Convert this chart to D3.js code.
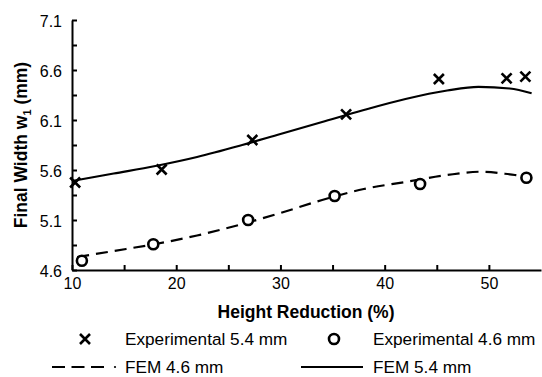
<!DOCTYPE html>
<html><head><meta charset="utf-8">
<script src="https://cdn.jsdelivr.net/npm/d3@7"></script>
<style>body{margin:0;background:#fff}svg{display:block}text{font-family:"Liberation Sans",Arial,Helvetica,sans-serif;fill:#000}</style>
</head><body><svg id="c" width="542" height="377"></svg>
<script>
const exp54X = [10.3, 18.6, 27.3, 36.3, 45.2, 51.7, 53.5];
const exp54Y = [5.475, 5.605, 5.90, 6.157, 6.51, 6.517, 6.533];
const exp46X = [10.95, 17.8, 26.9, 35.2, 43.4, 53.6];
const exp46Y = [4.693, 4.857, 5.10, 5.34, 5.46, 5.523];
const fem54X = [10, 14, 18, 22, 26, 30, 34, 38, 42, 46, 49, 52, 54.1];
const fem54Y = [5.49, 5.565, 5.64, 5.73, 5.84, 5.96, 6.08, 6.20, 6.31, 6.395, 6.432, 6.415, 6.367];
const fem46X = [10.5, 14, 18, 22, 26, 30, 34, 38, 42, 46, 49.3, 52.5, 53.8];
const fem46Y = [4.73, 4.79, 4.86, 4.945, 5.05, 5.17, 5.30, 5.41, 5.48, 5.55, 5.583, 5.55, 5.535];
const xTicks = [10, 20, 30, 40, 50];
const xMinor = [15, 25, 35, 45];
const yTicks = [4.6, 5.1, 5.6, 6.1, 6.6, 7.1];
const yMinor = [4.85, 5.35, 5.85, 6.35, 6.85];
const legendLabels = ["Experimental 5.4 mm", "Experimental 4.6 mm", "FEM 4.6 mm", "FEM 5.4 mm"];

const svg = d3.select("#c");
const x = d3.scaleLinear().domain([10, 55]).range([72, 541]);
const y = d3.scaleLinear().domain([4.6, 7.1]).range([270, 20]);

const g = svg.append("g");
// axes
const xa = g.append("g").attr("transform", "translate(0,270)")
  .call(d3.axisBottom(x).tickValues(xTicks.concat(xMinor)).tickSizeInner(-5).tickSizeOuter(0)
    .tickFormat(d => xTicks.includes(d) ? d : ""));
xa.select(".domain").attr("stroke-width", 2);
xa.selectAll(".tick line").attr("stroke-width", 2);
xa.selectAll(".tick text").attr("font-size", 16).attr("y", 5).attr("dy", "0.9em");

const ya = g.append("g").attr("transform", "translate(72,0)")
  .call(d3.axisLeft(y).tickValues(yTicks.concat(yMinor)).tickSizeInner(-5).tickSizeOuter(0)
    .tickFormat(d => yTicks.includes(d) ? d3.format(".1f")(d) : ""));
ya.select(".domain").attr("stroke-width", 2);
ya.selectAll(".tick line").attr("stroke-width", 2);
ya.selectAll(".tick text").attr("font-size", 16).attr("x", -10).attr("dy", "0.4em");

// lines
const line = d3.line().x(d => x(d[0])).y(d => y(d[1])).curve(d3.curveMonotoneX);
g.append("path").datum(fem54X.map((v, i) => [v, fem54Y[i]]))
  .attr("d", line).attr("fill", "none").attr("stroke", "#000").attr("stroke-width", 2.2);
g.append("path").datum(fem46X.map((v, i) => [v, fem46Y[i]]))
  .attr("d", line).attr("fill", "none").attr("stroke", "#000").attr("stroke-width", 2.2)
  .attr("stroke-dasharray", "12,7");

// markers
const cross = (sel, cx, cy) => sel.append("path")
  .attr("d", `M${cx-5},${cy-5}L${cx+5},${cy+5}M${cx-5},${cy+5}L${cx+5},${cy-5}`)
  .attr("stroke", "#000").attr("stroke-width", 2.6).attr("fill", "none");
exp54X.forEach((v, i) => cross(g, x(v), y(exp54Y[i])));
g.selectAll(".circ").data(exp46X.map((v, i) => [v, exp46Y[i]])).enter().append("circle")
  .attr("cx", d => x(d[0])).attr("cy", d => y(d[1])).attr("r", 5)
  .attr("fill", "#fff").attr("stroke", "#000").attr("stroke-width", 2.6);

// axis labels
svg.append("text").attr("x", 306).attr("y", 318).attr("text-anchor", "middle")
  .attr("font-size", 17.5).attr("font-weight", "bold").text("Height Reduction (%)");
const yl = svg.append("text").attr("transform", "translate(27,145) rotate(-90)")
  .attr("text-anchor", "middle").attr("font-size", 17.5).attr("font-weight", "bold");
yl.append("tspan").text("Final Width w");
yl.append("tspan").attr("font-size", 11).attr("dy", 4).text("1");
yl.append("tspan").attr("dy", -4).text(" (mm)");

// legend
const lg = svg.append("g");
cross(lg, 85, 339);
lg.append("circle").attr("cx", 334).attr("cy", 339).attr("r", 5)
  .attr("fill", "#fff").attr("stroke", "#000").attr("stroke-width", 2.6);
lg.append("line").attr("x1", 52).attr("x2", 104).attr("y1", 367).attr("y2", 367)
  .attr("stroke", "#000").attr("stroke-width", 2.2).attr("stroke-dasharray", "13,6.5");
lg.append("circle").attr("cx", 115).attr("cy", 367).attr("r", 1.1).attr("fill", "#000");
lg.append("line").attr("x1", 301).attr("x2", 363).attr("y1", 367).attr("y2", 367)
  .attr("stroke", "#000").attr("stroke-width", 2.2);
const lt = [[125, 339], [373, 339], [125, 367], [373, 367]];
legendLabels.forEach((t, i) => lg.append("text").attr("x", lt[i][0]).attr("y", lt[i][1])
  .attr("dy", "0.35em").attr("font-size", 17.2).text(t));
</script></body></html>
